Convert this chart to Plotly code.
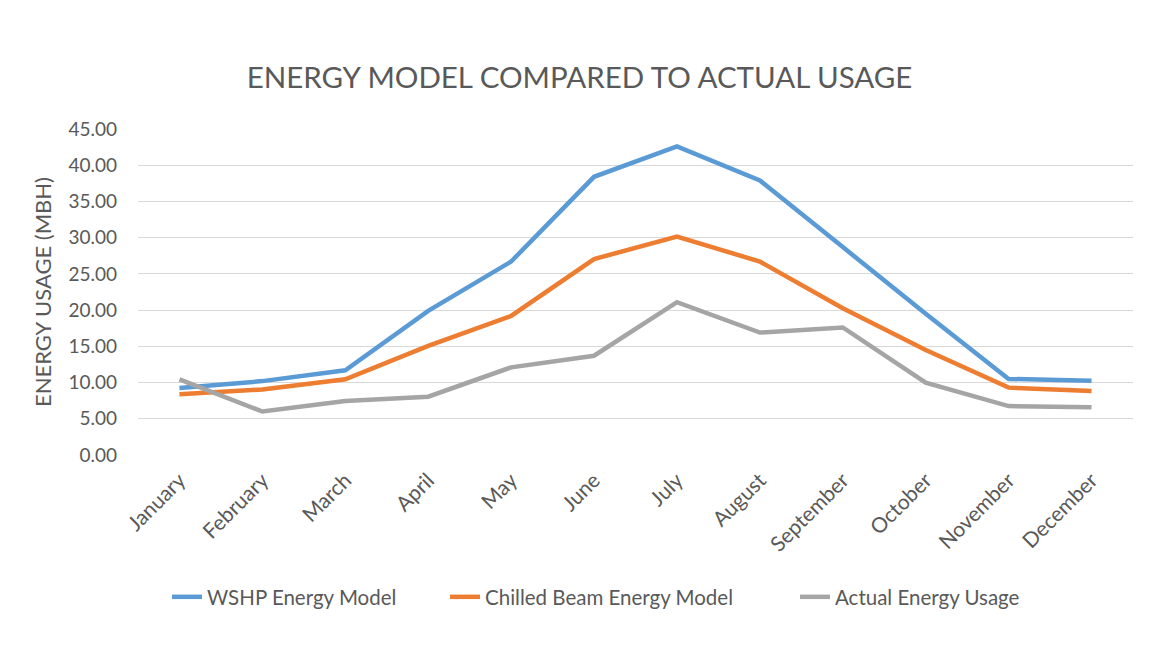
import plotly.graph_objects as go

months = ["January", "February", "March", "April", "May", "June", "July",
          "August", "September", "October", "November", "December"]
wshp = [9.25, 10.2, 11.7, 19.9, 26.7, 38.4, 42.6, 37.9, 28.7, 19.5, 10.5, 10.25]
chilled = [8.4, 9.05, 10.45, 15.05, 19.2, 27.05, 30.15, 26.7, 20.25, 14.5, 9.3, 8.85]
actual = [10.45, 6.0, 7.45, 8.05, 12.1, 13.7, 21.1, 16.9, 17.6, 10.0, 6.75, 6.6]
y_ticks = [0, 5, 10, 15, 20, 25, 30, 35, 40, 45]

FONT = "Lato"
GREY = "#595959"

# figure is offset 8px by the page body margin
W, H = 1162, 650
L, T, PW, PH = 130, 121, 995, 326

series = [("WSHP Energy Model", wshp, "#5B9BD5", "legend", 159),
          ("Chilled Beam Energy Model", chilled, "#ED7D31", "legend2", 437),
          ("Actual Energy Usage", actual, "#A5A5A5", "legend3", 787)]

fig = go.Figure()
for name, vals, color, lg, _ in series:
    fig.add_trace(go.Scatter(x=months, y=vals, mode="lines", name=name,
                             legend=lg, line=dict(color=color, width=4.5)))

leg_y = -(589 - (T + PH)) / PH
legends = {}
for _, _, _, lg, px in series:
    legends[lg] = dict(orientation="h", x=(px - L) / PW, xanchor="left",
                       y=leg_y, yanchor="middle",
                       font=dict(family=FONT, size=20.5, color=GREY),
                       bgcolor="rgba(0,0,0,0)")

fig.update_layout(
    width=W, height=H,
    paper_bgcolor="white", plot_bgcolor="white",
    margin=dict(l=L, r=W - L - PW, t=T, b=H - T - PH),
    font=dict(family=FONT, color=GREY),
    title=dict(text="ENERGY MODEL COMPARED TO ACTUAL USAGE",
               font=dict(family=FONT, size=29.5, color=GREY),
               x=571.5 / W, xanchor="center", y=1 - 70 / H, yanchor="middle"),
    showlegend=True,
    **legends,
    xaxis=dict(type="category", tickangle=-45, showgrid=False, showline=False,
               ticks="", tickfont=dict(family=FONT, size=21, color=GREY),
               ticklabelstandoff=8,
               range=[-0.5, 11.5], automargin=False),
    yaxis=dict(range=[0, 45], tickvals=y_ticks, tickformat=".2f",
               showgrid=True, gridcolor="#D9D9D9", gridwidth=1.3,
               zeroline=False, showline=False, ticks="",
               ticklabelstandoff=20, automargin=False,
               tickfont=dict(family=FONT, size=19, color=GREY),
               title=dict(text="ENERGY USAGE (MBH)",
                          font=dict(family=FONT, size=22, color=GREY),
                          standoff=10)),
)

fig.write_html("out.html")
